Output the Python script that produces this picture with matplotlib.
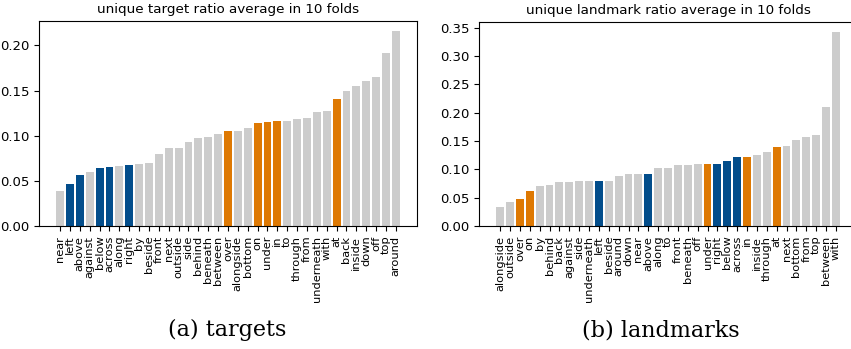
import matplotlib
matplotlib.use("Agg")
import matplotlib.pyplot as plt

# unique target ratio, sorted ascending
target_words = ["near", "left", "above", "against", "below", "across", "along", "right",
                "by", "beside", "front", "next", "outside", "side", "behind", "beneath",
                "between", "over", "alongside", "bottom", "on", "under", "in", "to",
                "through", "from", "underneath", "with", "at", "back", "inside", "down",
                "off", "top", "around"]
target_ratio = [0.039, 0.047, 0.057, 0.060, 0.064, 0.065, 0.066, 0.068,
                0.069, 0.070, 0.080, 0.086, 0.086, 0.093, 0.097, 0.099,
                0.102, 0.105, 0.105, 0.108, 0.114, 0.115, 0.116, 0.116,
                0.118, 0.120, 0.126, 0.127, 0.141, 0.150, 0.155, 0.160,
                0.165, 0.192, 0.216]

# unique landmark ratio, sorted ascending
landmark_words = ["alongside", "outside", "over", "on", "by", "behind", "back", "against",
                  "side", "underneath", "left", "beside", "around", "down", "near", "above",
                  "along", "to", "front", "beneath", "off", "under", "right", "below",
                  "across", "in", "inside", "through", "at", "next", "bottom", "from",
                  "top", "between", "with"]
landmark_ratio = [0.033, 0.043, 0.048, 0.062, 0.071, 0.073, 0.078, 0.078,
                  0.080, 0.080, 0.080, 0.080, 0.089, 0.091, 0.091, 0.092,
                  0.103, 0.103, 0.108, 0.108, 0.110, 0.110, 0.110, 0.114,
                  0.121, 0.122, 0.126, 0.130, 0.140, 0.142, 0.152, 0.158,
                  0.160, 0.211, 0.343]

blue_words = ["left", "above", "below", "across", "right"]
orange_words = ["over", "on", "under", "in", "at"]

GREY = "#cccccc"
BLUE = "#024d8b"
ORANGE = "#de7903"


def word_color(w):
    if w in blue_words:
        return BLUE
    if w in orange_words:
        return ORANGE
    return GREY


def draw_panel(ax, words, values, title):
    xs = range(len(words))
    ax.bar(xs, values, width=0.8, color=[word_color(w) for w in words])
    ax.set_xticks(list(xs))
    ax.set_xticklabels(words, rotation=90, fontsize=8.2)
    ax.tick_params(axis="y", labelsize=9.5)
    ax.set_title(title, fontsize=9.7)


fig = plt.figure(figsize=(8.51, 3.49), dpi=100)
ax1 = fig.add_axes([0.0458, 0.3524, 0.4442, 0.587])
ax2 = fig.add_axes([0.5629, 0.3524, 0.4442, 0.5845])

draw_panel(ax1, target_words, target_ratio, "unique target ratio average in 10 folds")
draw_panel(ax2, landmark_words, landmark_ratio, "unique landmark ratio average in 10 folds")
ax2.set_yticks([0, 0.05, 0.10, 0.15, 0.20, 0.25, 0.30, 0.35])

fig.text(0.267, 0.054, "(a) targets", ha="center", va="center",
         family="DejaVu Serif", fontsize=16)
fig.text(0.777, 0.054, "(b) landmarks", ha="center", va="center",
         family="DejaVu Serif", fontsize=16)

fig.savefig("out.png", dpi=100)
